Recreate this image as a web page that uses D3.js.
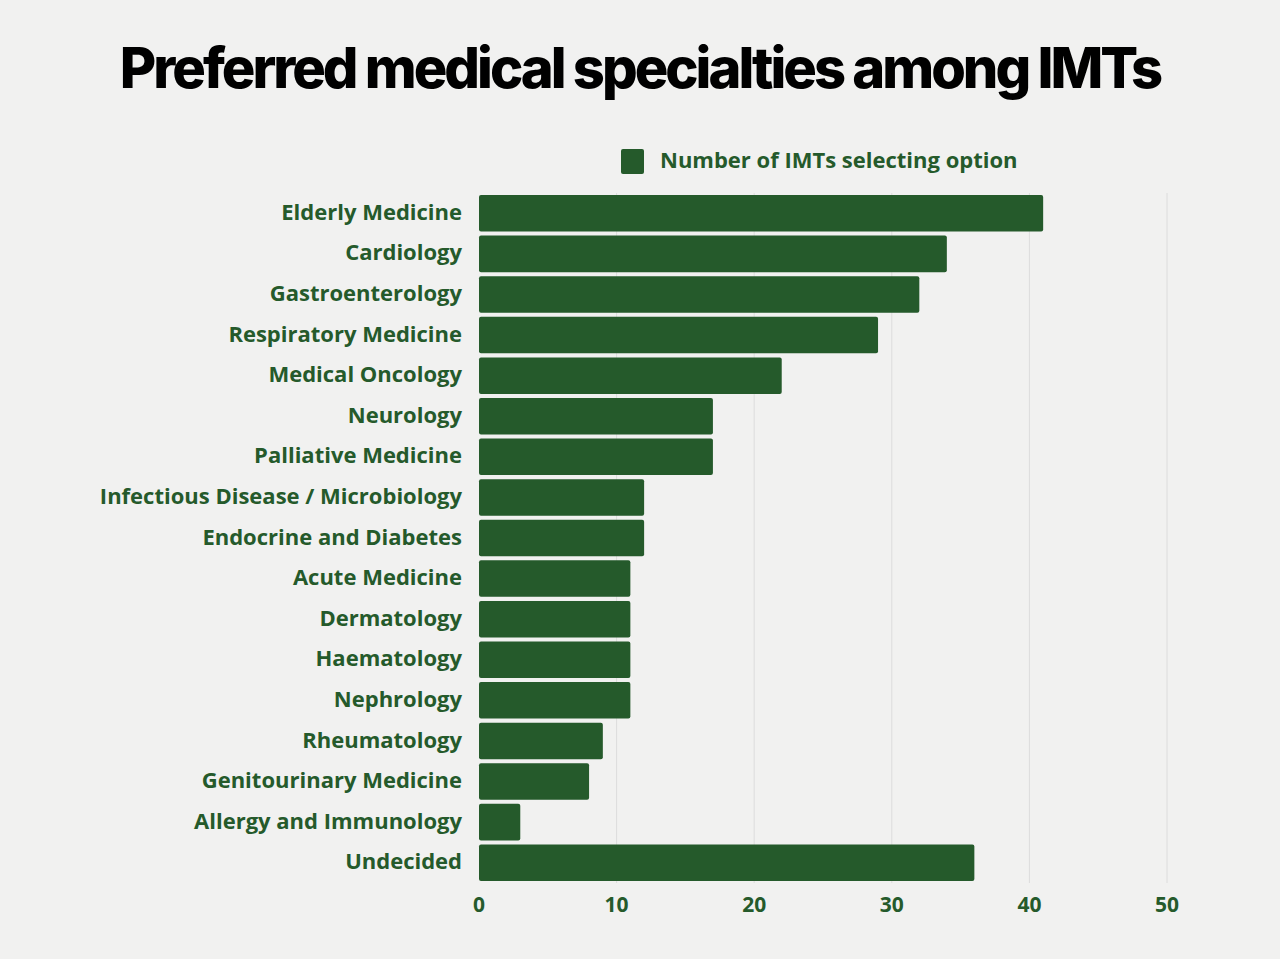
<!DOCTYPE html>
<html>
<head>
<meta charset="utf-8">
<script src="https://cdn.jsdelivr.net/npm/d3@7"></script>
<style>
  body { margin: 0; background: #f1f1f0; }
  svg { display: block; }
</style>
</head>
<body>
<div id="chart"></div>
<script>
// data
const specialties = ['Elderly Medicine', 'Cardiology', 'Gastroenterology', 'Respiratory Medicine',
  'Medical Oncology', 'Neurology', 'Palliative Medicine', 'Infectious Disease / Microbiology',
  'Endocrine and Diabetes', 'Acute Medicine', 'Dermatology', 'Haematology', 'Nephrology',
  'Rheumatology', 'Genitourinary Medicine', 'Allergy and Immunology', 'Undecided'];
const counts = [41, 34, 32, 29, 22, 17, 17, 12, 12, 11, 11, 11, 11, 9, 8, 3, 36];
const xTicks = [0, 10, 20, 30, 40, 50];
const seriesName = 'Number of IMTs selecting option';

const W = 1280, H = 959;
const margin = { top: 193, right: 113, bottom: 76, left: 479 };
const green = '#255a2b';

const svg = d3.select('#chart').append('svg')
    .attr('width', W)
    .attr('height', H);

svg.append('rect').attr('width', W).attr('height', H).attr('fill', '#f1f1f0');

const x = d3.scaleLinear()
    .domain([0, 50])
    .range([margin.left, W - margin.right]);

const y = d3.scaleBand()
    .domain(specialties)
    .range([margin.top, H - margin.bottom])
    .paddingInner(0.1)
    .paddingOuter(0.05);

// gridlines
svg.append('g')
  .selectAll('line')
  .data(xTicks.slice(1))
  .join('line')
    .attr('x1', d => x(d))
    .attr('x2', d => x(d))
    .attr('y1', margin.top)
    .attr('y2', H - margin.bottom)
    .attr('stroke', '#dcdcdc')
    .attr('stroke-width', 1);

// bars
svg.append('g')
  .selectAll('rect')
  .data(specialties)
  .join('rect')
    .attr('x', x(0))
    .attr('y', d => y(d))
    .attr('width', (d, i) => x(counts[i]) - x(0))
    .attr('height', y.bandwidth())
    .attr('rx', 2)
    .attr('fill', green);

// category labels
svg.append('g')
  .selectAll('text')
  .data(specialties)
  .join('text')
    .attr('x', 462)
    .attr('y', d => y(d) + y.bandwidth() / 2)
    .attr('dy', '0.3em')
    .attr('text-anchor', 'end')
    .attr('fill', green)
    .style('font-family', '"Open Sans", sans-serif')
    .style('font-weight', 700)
    .style('font-size', '22px')
    .text(d => d);

// x axis tick labels
svg.append('g')
  .selectAll('text')
  .data(xTicks)
  .join('text')
    .attr('x', d => x(d))
    .attr('y', 912)
    .attr('text-anchor', 'middle')
    .attr('fill', green)
    .style('font-family', '"Open Sans", sans-serif')
    .style('font-weight', 700)
    .style('font-size', '21px')
    .text(d => d);

// legend
svg.append('rect')
    .attr('x', 621)
    .attr('y', 149)
    .attr('width', 23)
    .attr('height', 25)
    .attr('rx', 2)
    .attr('fill', green);
svg.append('text')
    .attr('x', 660)
    .attr('y', 168)
    .attr('fill', green)
    .style('font-family', '"Open Sans", sans-serif')
    .style('font-weight', 700)
    .style('font-size', '22px')
    .text(seriesName);

// title
svg.append('text')
    .attr('x', 640)
    .attr('y', 88)
    .attr('text-anchor', 'middle')
    .attr('fill', '#000')
    .style('font-family', 'Inter, sans-serif')
    .style('font-weight', 800)
    .style('font-size', '56px')
    .style('letter-spacing', '-3px')
    .text('Preferred medical specialties among IMTs');
</script>
</body>
</html>
